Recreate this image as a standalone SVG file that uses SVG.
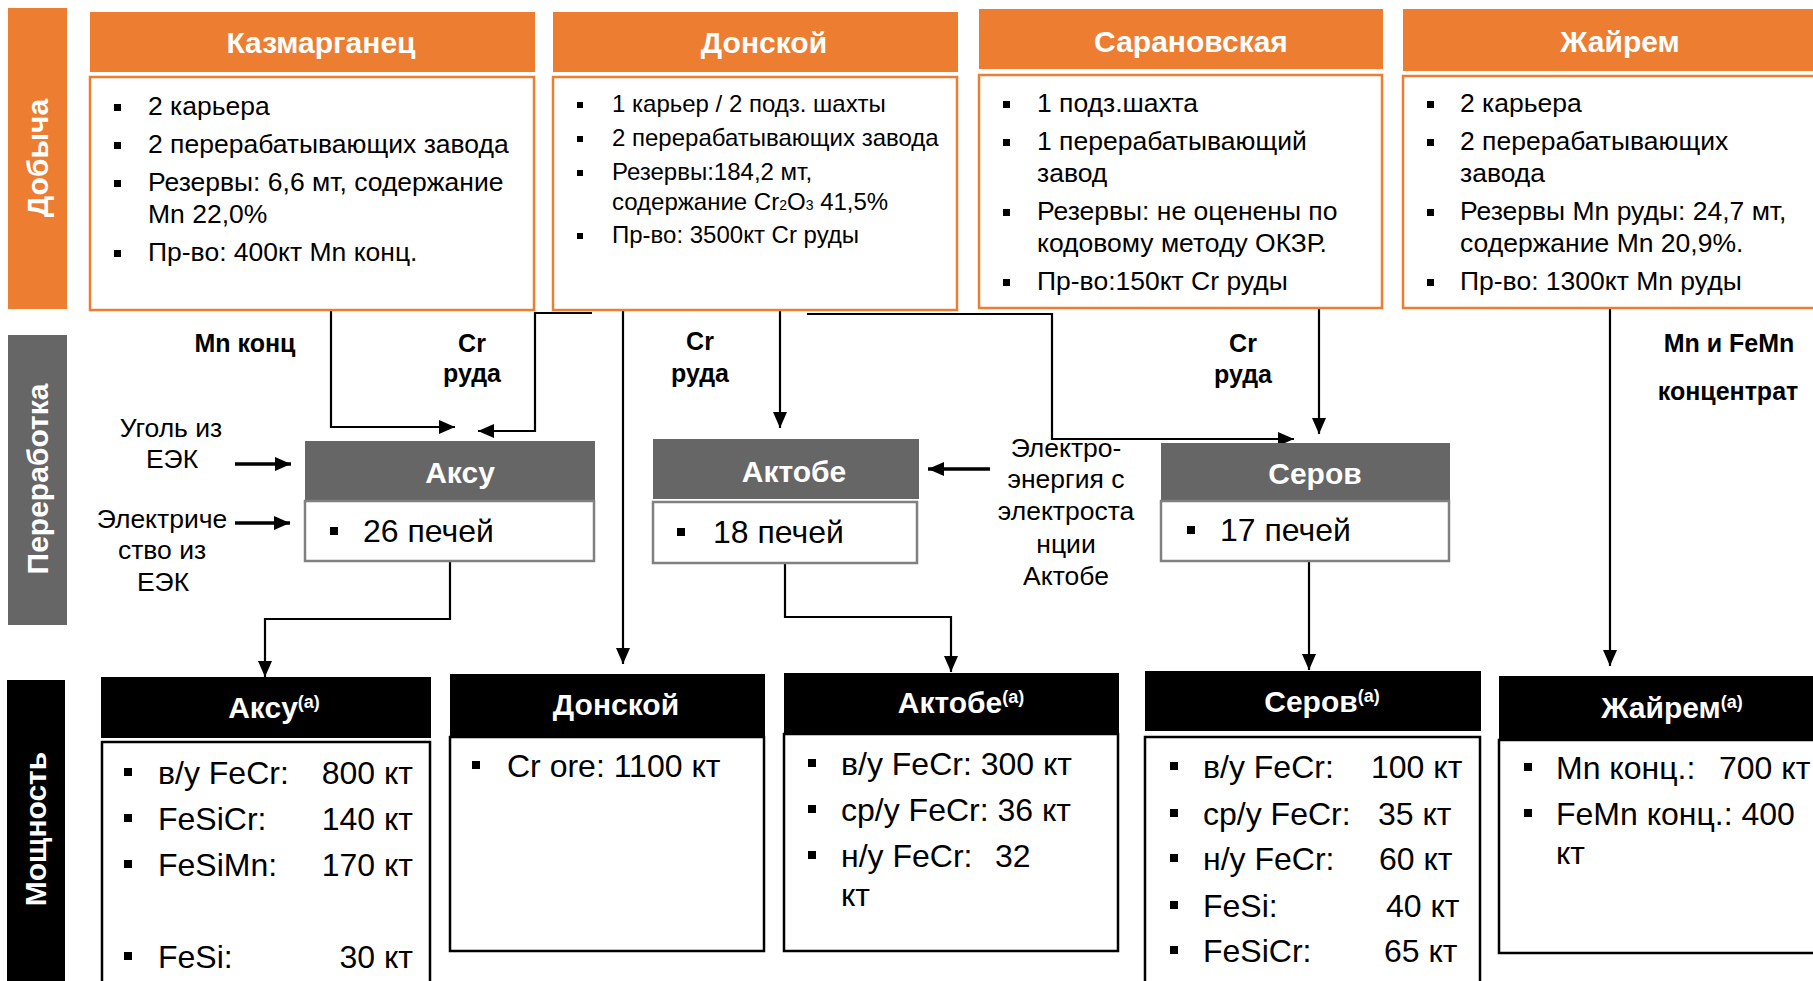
<svg xmlns="http://www.w3.org/2000/svg" width="1813" height="981" viewBox="0 0 1813 981">
<defs>
<style>
text{font-family:"Liberation Sans",Arial,sans-serif;fill:#000}
.side{font-size:30px;font-weight:bold;fill:#fff;text-anchor:middle}
.oh{fill:#ED7D31}
.ob{fill:#fff;stroke:#ED7D31;stroke-width:2.5}
.gh{fill:#666}
.gb{fill:#fff;stroke:#808080;stroke-width:2.5}
.bh{fill:#000}
.bb{fill:#fff;stroke:#000;stroke-width:2.5}
.ht{font-size:30px;font-weight:bold;fill:#fff;text-anchor:middle}
.t25{font-size:26.5px}
.t22{font-size:24px}
.t30{font-size:32px}
.lab{font-size:25px;font-weight:bold;text-anchor:middle}
.nt{font-size:26.5px;text-anchor:middle}
.sup{font-size:18px}
.bul{fill:#000}
.cn{fill:none;stroke:#000;stroke-width:2.2}
.cnt{fill:none;stroke:#000;stroke-width:3.5}
</style>
<marker id="arr" markerUnits="userSpaceOnUse" viewBox="0 0 16 16" markerWidth="16" markerHeight="16" refX="16" refY="8" orient="auto">
<path d="M0,1 L16,8 L0,15 z" fill="#000"/>
</marker>
</defs>
<rect width="1813" height="981" fill="#fff"/>

<g id="band-extraction">
<rect x="8" y="8" width="59" height="301" class="oh"/>
<text class="side" transform="translate(48,158) rotate(-90)">Добыча</text>
</g>
<g id="band-processing">
<rect x="8" y="335" width="59" height="290" class="gh"/>
<text class="side" transform="translate(48,479) rotate(-90)">Переработка</text>
</g>
<g id="band-capacity">
<rect x="7" y="680" width="58" height="301" class="bh"/>
<text class="side" transform="translate(46,829) rotate(-90)">Мощность</text>
</g>

<g id="connectors">
<path class="cn" d="M331,311 V427 H455" marker-end="url(#arr)"/>
<path class="cn" d="M592,313 H535 V431 H478" marker-end="url(#arr)"/>
<path class="cn" d="M623,311 V664" marker-end="url(#arr)"/>
<path class="cn" d="M780,311 V428" marker-end="url(#arr)"/>
<path class="cn" d="M807,314 H1052 V439 H1294" marker-end="url(#arr)"/>
<path class="cn" d="M1319,309 V434" marker-end="url(#arr)"/>
<path class="cn" d="M450,561 V619 H265 V677" marker-end="url(#arr)"/>
<path class="cn" d="M785,563 V617 H951 V672" marker-end="url(#arr)"/>
<path class="cn" d="M1309,561 V670" marker-end="url(#arr)"/>
<path class="cn" d="M1610,309 V666" marker-end="url(#arr)"/>
<path class="cnt" d="M235,464 H291" marker-end="url(#arr)"/>
<path class="cnt" d="M235,523 H290" marker-end="url(#arr)"/>
<path class="cnt" d="M990,469 H928" marker-end="url(#arr)"/>
</g>

<g id="kazmarganets">
<rect x="90" y="12" width="445" height="60" class="oh"/>
<rect x="90" y="77" width="444" height="233" class="ob"/>
<text class="ht" x="321" y="53">Казмарганец</text>
<rect class="bul" x="114" y="104" width="7" height="7"/>
<rect class="bul" x="114" y="142" width="7" height="7"/>
<rect class="bul" x="114" y="180" width="7" height="7"/>
<rect class="bul" x="114" y="250" width="7" height="7"/>
<text class="t25" x="148" y="115">2 карьера</text>
<text class="t25" x="148" y="153">2 перерабатывающих завода</text>
<text class="t25" x="148" y="191">Резервы: 6,6 мт, содержание</text>
<text class="t25" x="148" y="223">Mn 22,0%</text>
<text class="t25" x="148" y="261">Пр-во: 400кт Mn конц.</text>
</g>

<g id="donskoy">
<rect x="553" y="12" width="405" height="60" class="oh"/>
<rect x="553" y="77" width="404" height="233" class="ob"/>
<text class="ht" x="764" y="53">Донской</text>
<rect class="bul" x="577" y="102" width="6" height="6"/>
<rect class="bul" x="577" y="136" width="6" height="6"/>
<rect class="bul" x="577" y="170" width="6" height="6"/>
<rect class="bul" x="577" y="233" width="6" height="6"/>
<text class="t22" x="612" y="112">1 карьер / 2 подз. шахты</text>
<text class="t22" x="612" y="146">2 перерабатывающих завода</text>
<text class="t22" x="612" y="180">Резервы:184,2 мт,</text>
<text class="t22" x="612" y="210">содержание Cr<tspan font-size="14">2</tspan>O<tspan font-size="14">3</tspan> 41,5%</text>
<text class="t22" x="612" y="243">Пр-во: 3500кт Cr руды</text>
</g>

<g id="saranovskaya">
<rect x="979" y="9" width="404" height="60" class="oh"/>
<rect x="979" y="75" width="403" height="233" class="ob"/>
<text class="ht" x="1191" y="52">Сарановская</text>
<rect class="bul" x="1003" y="101" width="7" height="7"/>
<rect class="bul" x="1003" y="139" width="7" height="7"/>
<rect class="bul" x="1003" y="209" width="7" height="7"/>
<rect class="bul" x="1003" y="279" width="7" height="7"/>
<text class="t25" x="1037" y="112">1 подз.шахта</text>
<text class="t25" x="1037" y="150">1 перерабатывающий</text>
<text class="t25" x="1037" y="182">завод</text>
<text class="t25" x="1037" y="220">Резервы: не оценены по</text>
<text class="t25" x="1037" y="252">кодовому методу ОКЗР.</text>
<text class="t25" x="1037" y="290">Пр-во:150кт Cr руды</text>
</g>

<g id="zhairem">
<rect x="1403" y="9" width="440" height="62" class="oh"/>
<rect x="1403" y="76" width="440" height="232" class="ob"/>
<text class="ht" x="1620" y="52">Жайрем</text>
<rect class="bul" x="1427" y="101" width="7" height="7"/>
<rect class="bul" x="1427" y="139" width="7" height="7"/>
<rect class="bul" x="1427" y="209" width="7" height="7"/>
<rect class="bul" x="1427" y="279" width="7" height="7"/>
<text class="t25" x="1460" y="112">2 карьера</text>
<text class="t25" x="1460" y="150">2 перерабатывающих</text>
<text class="t25" x="1460" y="182">завода</text>
<text class="t25" x="1460" y="220">Резервы Mn руды: 24,7 мт,</text>
<text class="t25" x="1460" y="252">содержание Mn 20,9%.</text>
<text class="t25" x="1460" y="290">Пр-во: 1300кт Mn руды</text>
</g>

<g id="flow-labels">
<text class="lab" x="245" y="352">Mn конц</text>
<text class="lab" x="472" y="352">Cr</text>
<text class="lab" x="472" y="382">руда</text>
<text class="lab" x="700" y="350">Cr</text>
<text class="lab" x="700" y="382">руда</text>
<text class="lab" x="1243" y="352">Cr</text>
<text class="lab" x="1243" y="383">руда</text>
<text class="lab" x="1729" y="352">Mn и FeMn</text>
<text class="lab" x="1728" y="400">концентрат</text>
</g>

<g id="input-coal">
<text class="nt" x="171" y="437">Уголь из</text>
<text class="nt" x="172" y="468">ЕЭК</text>
</g>
<g id="input-electricity">
<text class="nt" x="162" y="528">Электриче</text>
<text class="nt" x="162" y="559">ство из</text>
<text class="nt" x="163" y="591">ЕЭК</text>
</g>
<g id="input-aktobe-power">
<text class="nt" x="1066" y="457">Электро-</text>
<text class="nt" x="1066" y="488">энергия с</text>
<text class="nt" x="1066" y="520">электроста</text>
<text class="nt" x="1066" y="553">нции</text>
<text class="nt" x="1066" y="585">Актобе</text>
</g>

<g id="proc-aksu">
<rect x="305" y="441" width="290" height="59" class="gh"/>
<rect x="305" y="501" width="289" height="60" class="gb"/>
<text class="ht" x="460" y="483">Аксу</text>
<rect class="bul" x="330" y="527" width="8" height="8"/>
<text class="t30" x="363" y="542">26 печей</text>
</g>
<g id="proc-aktobe">
<rect x="653" y="439" width="266" height="60" class="gh"/>
<rect x="653" y="502" width="264" height="61" class="gb"/>
<text class="ht" x="794" y="482">Актобе</text>
<rect class="bul" x="677" y="528" width="8" height="8"/>
<text class="t30" x="713" y="543">18 печей</text>
</g>
<g id="proc-serov">
<rect x="1161" y="443" width="289" height="58" class="gh"/>
<rect x="1161" y="501" width="288" height="60" class="gb"/>
<text class="ht" x="1315" y="484">Серов</text>
<rect class="bul" x="1187" y="526" width="8" height="8"/>
<text class="t30" x="1220" y="541">17 печей</text>
</g>

<g id="cap-aksu">
<rect x="101" y="677" width="330" height="61" class="bh"/>
<rect x="102" y="742" width="328" height="260" class="bb"/>
<text class="ht" x="274" y="718">Аксу<tspan class="sup" dy="-10">(a)</tspan></text>
<rect class="bul" x="124" y="768" width="8" height="8"/>
<rect class="bul" x="124" y="814" width="8" height="8"/>
<rect class="bul" x="124" y="860" width="8" height="8"/>
<rect class="bul" x="124" y="952" width="8" height="8"/>
<text class="t30" x="158" y="784">в/у FeCr:</text>
<text class="t30" x="158" y="830">FeSiCr:</text>
<text class="t30" x="158" y="876">FeSiMn:</text>
<text class="t30" x="158" y="968">FeSi:</text>
<text class="t30" x="413" y="784" text-anchor="end">800 кт</text>
<text class="t30" x="413" y="830" text-anchor="end">140 кт</text>
<text class="t30" x="413" y="876" text-anchor="end">170 кт</text>
<text class="t30" x="413" y="968" text-anchor="end">30 кт</text>
</g>
<g id="cap-donskoy">
<rect x="450" y="674" width="315" height="63" class="bh"/>
<rect x="450" y="737" width="314" height="214" class="bb"/>
<text class="ht" x="616" y="715">Донской</text>
<rect class="bul" x="472" y="761" width="8" height="8"/>
<text class="t30" x="507" y="777">Cr ore: 1100 кт</text>
</g>
<g id="cap-aktobe">
<rect x="784" y="673" width="335" height="61" class="bh"/>
<rect x="784" y="734" width="334" height="217" class="bb"/>
<text class="ht" x="961" y="713">Актобе<tspan class="sup" dy="-10">(a)</tspan></text>
<rect class="bul" x="808" y="759" width="8" height="8"/>
<rect class="bul" x="808" y="805" width="8" height="8"/>
<rect class="bul" x="808" y="851" width="8" height="8"/>
<text class="t30" x="841" y="775">в/у FeCr: 300 кт</text>
<text class="t30" x="841" y="821">ср/у FeCr: 36 кт</text>
<text class="t30" x="841" y="867">н/у FeCr:   <tspan x="995">32</tspan></text>
<text class="t30" x="841" y="906">кт</text>
</g>
<g id="cap-serov">
<rect x="1145" y="671" width="336" height="60" class="bh"/>
<rect x="1145" y="737" width="335" height="270" class="bb"/>
<text class="ht" x="1322" y="712">Серов<tspan class="sup" dy="-10">(a)</tspan></text>
<rect class="bul" x="1170" y="762" width="8" height="8"/>
<rect class="bul" x="1170" y="809" width="8" height="8"/>
<rect class="bul" x="1170" y="854" width="8" height="8"/>
<rect class="bul" x="1170" y="901" width="8" height="8"/>
<rect class="bul" x="1170" y="946" width="8" height="8"/>
<text class="t30" x="1203" y="778">в/у FeCr:</text>
<text class="t30" x="1203" y="825">ср/у FeCr:</text>
<text class="t30" x="1203" y="870">н/у FeCr:</text>
<text class="t30" x="1203" y="917">FeSi:</text>
<text class="t30" x="1203" y="962">FeSiCr:</text>
<text class="t30" x="1371" y="778">100 кт</text>
<text class="t30" x="1378" y="825">35 кт</text>
<text class="t30" x="1379" y="870">60 кт</text>
<text class="t30" x="1386" y="917">40 кт</text>
<text class="t30" x="1384" y="962">65 кт</text>
</g>
<g id="cap-zhairem">
<rect x="1499" y="676" width="345" height="64" class="bh"/>
<rect x="1499" y="740" width="345" height="213" class="bb"/>
<text class="ht" x="1672" y="718">Жайрем<tspan class="sup" dy="-10">(a)</tspan></text>
<rect class="bul" x="1524" y="763" width="8" height="8"/>
<rect class="bul" x="1524" y="809" width="8" height="8"/>
<text class="t30" x="1556" y="779">Mn конц.:   <tspan x="1719">700 кт</tspan></text>
<text class="t30" x="1556" y="825">FeMn конц.: 400</text>
<text class="t30" x="1556" y="864">кт</text>
</g>
</svg>
